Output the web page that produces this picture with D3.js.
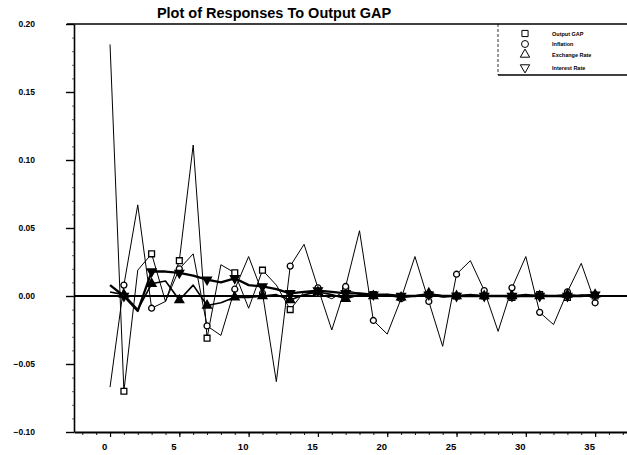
<!DOCTYPE html>
<html>
<head>
<meta charset="utf-8">
<script src="https://cdn.jsdelivr.net/npm/d3@7"></script>
<style>
body { margin: 0; background: #fff; }
svg { display: block; font-family: "Liberation Sans", Arial, sans-serif; }
</style>
</head>
<body>
<div id="chart"></div>
<script>
// horizon 0..35
const steps = d3.range(0, 36)

const outputGap = [0.185, -0.070, 0.019, 0.031, -0.004, 0.026, 0.111, -0.031, 0.023, 0.017,
    -0.009, 0.019, 0.008, -0.010, 0.003, 0.002, -0.002, 0.004, 0.002, 0.001,
    0.000, -0.001, 0.000, 0.001, -0.001, 0.000, 0.001, 0.000, 0.000, -0.001,
    0.000, 0.001, 0.000, -0.001, 0.001, 0.000]
const inflation = [-0.067, 0.008, 0.067, -0.009, -0.004, 0.020, 0.031, -0.022, -0.029, 0.005,
    0.029, 0.002, -0.063, 0.022, 0.038, 0.006, -0.025, 0.007, 0.048, -0.018,
    -0.028, -0.002, 0.029, -0.004, -0.037, 0.016, 0.026, 0.004, -0.026, 0.006,
    0.029, -0.012, -0.021, 0.003, 0.024, -0.005]
const exchangeRate = [0.003, 0.001, -0.010, 0.009, 0.011, -0.003, 0.008, -0.007, -0.005, -0.001,
    -0.001, 0.000, 0.001, -0.003, 0.001, 0.003, 0.001, -0.002, 0.001, 0.000,
    0.001, -0.001, 0.000, 0.002, 0.000, 0.000, 0.001, 0.000, 0.000, 0.000,
    0.001, 0.000, 0.000, 0.001, 0.000, 0.001]
const interestRate = [0.008, 0.000, -0.011, 0.018, 0.018, 0.017, 0.015, 0.012, 0.010, 0.013,
    0.008, 0.007, 0.005, 0.002, 0.003, 0.004, 0.003, 0.002, 0.002, 0.001,
    0.001, 0.000, 0.000, 0.001, 0.000, 0.000, 0.000, 0.000, 0.000, 0.000,
    0.000, 0.000, 0.000, 0.000, 0.000, 0.001]

const seriesNames = ["Output GAP", "Inflation", "Exchange Rate", "Interest Rate"]
const yTicks = [-0.10, -0.05, 0.00, 0.05, 0.10, 0.15, 0.20]
const xTicks = [0, 5, 10, 15, 20, 25, 30, 35]
const title = "Plot of Responses To Output GAP"

const width = 627
const height = 455
const margin = {top: 24, right: 0, bottom: 23, left: 74}

const svg = d3.select("div#chart").append("svg")
    .attr("width", width)
    .attr("height", height)

const x = d3.scaleLinear().domain([-2.6, 37.3]).range([margin.left, width - margin.right])
const y = d3.scaleLinear().domain([-0.10, 0.20]).range([height - margin.bottom, margin.top])

// frame top line
svg.append("line")
    .attr("x1", 67).attr("x2", width)
    .attr("y1", y(0.20)).attr("y2", y(0.20))
    .attr("stroke", "#000").attr("stroke-width", 1.6)

svg.append("text")
    .attr("x", 274).attr("y", 18)
    .attr("text-anchor", "middle")
    .attr("font-size", 14.5).attr("font-weight", "bold")
    .text(title)

// y axis
const yMinor = svg.append("g")
    .attr("transform", `translate(${margin.left},0)`)
    .call(d3.axisLeft(y).tickValues(d3.range(-0.10, 0.2001, 0.01)).tickSize(2).tickFormat(""))
yMinor.select(".domain").remove()
yMinor.selectAll("line").attr("stroke-width", 0.6)

const yAxisGroup = svg.append("g")
    .attr("transform", `translate(${margin.left},0)`)
    .call(d3.axisLeft(y).tickValues(yTicks).tickSize(8).tickSizeOuter(0).tickPadding(31).tickFormat(d3.format(".2f")))
yAxisGroup.select(".domain").attr("stroke-width", 1.6)
yAxisGroup.selectAll("line").attr("stroke-width", 1.4)
yAxisGroup.selectAll("text")
    .attr("font-size", 8.5).attr("font-weight", "bold")
    .attr("font-family", "Liberation Sans, Arial, sans-serif")
    .attr("fill", "#000")

// x axis
const xMinor = svg.append("g")
    .attr("transform", `translate(0,${height - margin.bottom})`)
    .call(d3.axisBottom(x).tickValues(d3.range(-2, 38)).tickSize(3).tickFormat(""))
xMinor.select(".domain").remove()
xMinor.selectAll("line").attr("stroke-width", 0.9)

const xAxisGroup = svg.append("g")
    .attr("transform", `translate(0,${height - margin.bottom})`)
    .call(d3.axisBottom(x).tickValues(xTicks).tickSize(5).tickSizeOuter(0).tickPadding(6))
xAxisGroup.select(".domain").attr("stroke-width", 1.8)
xAxisGroup.selectAll("line").attr("stroke-width", 1.2)
xAxisGroup.selectAll("text")
    .attr("dx", -6)
    .attr("font-size", 9.5).attr("font-weight", "bold")
    .attr("font-family", "Liberation Sans, Arial, sans-serif")
    .attr("fill", "#000")

// zero line
svg.append("line")
    .attr("x1", margin.left).attr("x2", width)
    .attr("y1", y(0)).attr("y2", y(0))
    .attr("stroke", "#000").attr("stroke-width", 1.8)

const series = [
    {name: seriesNames[0], values: outputGap, symbol: d3.symbolSquare, size: 34, fill: "#fff", rotate: 0, lw: 1},
    {name: seriesNames[1], values: inflation, symbol: d3.symbolCircle, size: 28, fill: "#fff", rotate: 0, lw: 1},
    {name: seriesNames[2], values: exchangeRate, symbol: d3.symbolTriangle, size: 34, fill: "#000", rotate: 0, lw: 1.6},
    {name: seriesNames[3], values: interestRate, symbol: d3.symbolTriangle, size: 34, fill: "#000", rotate: 180, lw: 2.3}
]

const line = d3.line().x((d, i) => x(steps[i])).y(d => y(d))

const plot = svg.append("g").attr("class", "plot")

series.forEach(s => {
    plot.append("path")
        .datum(s.values)
        .attr("fill", "none")
        .attr("stroke", "#000")
        .attr("stroke-width", s.lw)
        .attr("stroke-linejoin", "round")
        .attr("d", line)
})

series.forEach(s => {
    plot.selectAll(null)
        .data(s.values.map((v, i) => ({t: steps[i], v})).filter(d => d.t % 2 === 1))
        .enter().append("path")
        .attr("d", d3.symbol().type(s.symbol).size(s.size))
        .attr("transform", d => `translate(${x(d.t)},${y(d.v)}) rotate(${s.rotate})`)
        .attr("fill", s.fill)
        .attr("stroke", "#000")
        .attr("stroke-width", 1.3)
})

// legend
const legend = svg.append("g")
legend.append("line")
    .attr("x1", 498).attr("x2", 498).attr("y1", 24).attr("y2", 75)
    .attr("stroke", "#000").attr("stroke-width", 0.8).attr("stroke-dasharray", "3,2")
legend.append("line")
    .attr("x1", 498).attr("x2", width).attr("y1", 75).attr("y2", 75)
    .attr("stroke", "#000").attr("stroke-width", 1.4)

const legendRows = [33.5, 44, 54.5, 67.5]
series.forEach((s, i) => {
    legend.append("path")
        .attr("d", d3.symbol().type(s.symbol).size(38))
        .attr("transform", `translate(525,${legendRows[i]}) rotate(${s.rotate})`)
        .attr("fill", "#fff").attr("stroke", "#000").attr("stroke-width", 1)
    legend.append("text")
        .attr("x", 552).attr("y", legendRows[i] + 2)
        .attr("font-size", 5.5).attr("font-weight", "bold")
        .text(s.name)
})
</script>
</body>
</html>
